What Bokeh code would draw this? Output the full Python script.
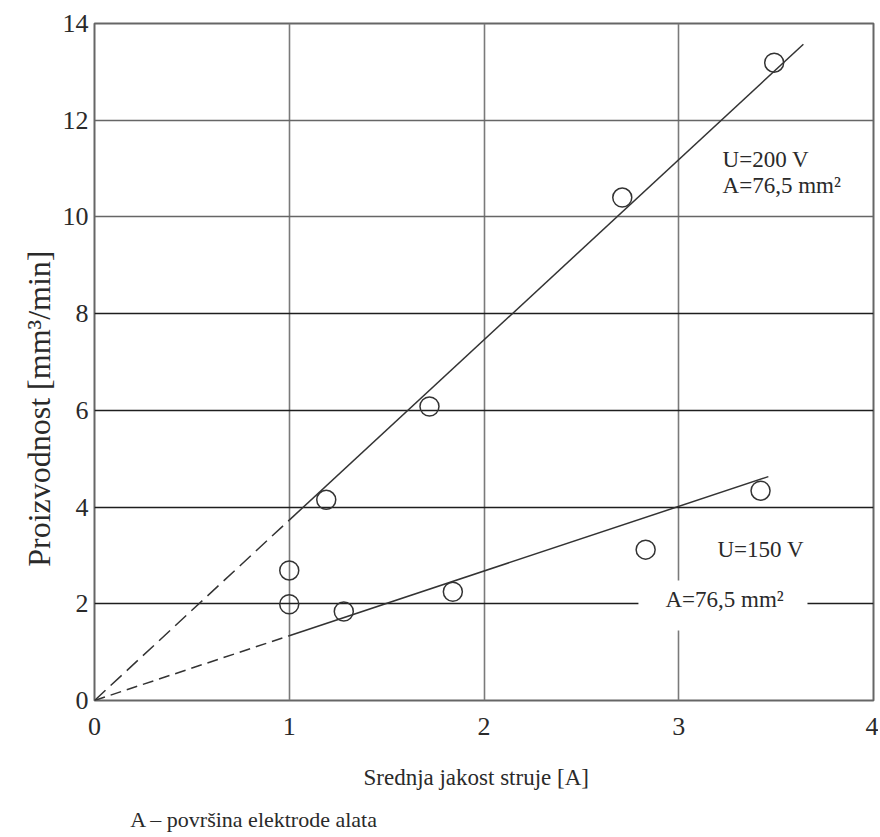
import math
from bokeh.plotting import figure
from bokeh.models import Range1d, FixedTicker, Grid, Label, BoxAnnotation, LinearAxis
from bokeh.embed import file_html
from bokeh.resources import INLINE

# ---- data ----
x_ticks = [0, 1, 2, 3, 4]
y_ticks = [0, 2, 4, 6, 8, 10, 12, 14]

# measured points, U = 200 V
u200_x = [1.0, 1.19, 1.72, 2.71, 3.49]
u200_y = [2.69, 4.15, 6.08, 10.40, 13.19]
# measured points, U = 150 V
u150_x = [1.0, 1.28, 1.84, 2.83, 3.42]
u150_y = [1.99, 1.84, 2.25, 3.12, 4.34]

# fitted lines (dashed extrapolation to origin, then solid)
fit200_dash_x = [0.0, 1.0]
fit200_dash_y = [0.0, 3.73]
fit200_x = [1.0, 3.64]
fit200_y = [3.73, 13.57]
fit150_dash_x = [0.0, 1.0]
fit150_dash_y = [0.0, 1.34]
fit150_x = [1.0, 3.46]
fit150_y = [1.34, 4.63]

ygrid_dark = [2, 4, 6, 8]
ygrid_light = [10, 12]
xgrid_ticks = [1, 2, 3]

x_title = "Srednja jakost struje [A]"
y_title = "Proizvodnost [mm³/min]"
footer = "A – površina elektrode alata"

FONT = "Liberation Serif"
INK = "#2a2a2a"

p = figure(width=878, height=837, output_backend="svg", toolbar_location=None,
           x_range=Range1d(0, 4), y_range=Range1d(0, 14),
           min_border_left=94, min_border_right=5, min_border_top=23,
           min_border_bottom=137)
p.background_fill_color = "white"
p.border_fill_color = "white"
p.outline_line_color = "#666666"
p.outline_line_width = 2


def style_axis(ax, size):
    ax.axis_line_color = None
    ax.major_tick_line_color = None
    ax.minor_tick_line_color = None
    ax.major_tick_in = 0
    ax.major_tick_out = 0
    ax.major_label_text_font = FONT
    ax.major_label_text_font_size = size
    ax.major_label_text_color = INK


style_axis(p.xaxis[0], "26px")
style_axis(p.yaxis[0], "26px")
p.xaxis[0].ticker = FixedTicker(ticks=x_ticks)
p.yaxis[0].ticker = FixedTicker(ticks=y_ticks)
p.xaxis[0].major_label_standoff = 17
p.yaxis[0].major_label_standoff = 6

# axis titles and footer, drawn as serif labels of extra label-only axes
x_title_pos = 1.96     # centre of the x title (x data units)
footer_pos = 0.82      # centre of the footer (x data units)
y_title_pos = 9.305    # upper end of the y title (y data units)

ax_xt = LinearAxis(ticker=FixedTicker(ticks=[x_title_pos]),
                   major_label_overrides={x_title_pos: x_title})
style_axis(ax_xt, "23px")
ax_xt.major_label_standoff = 27
p.add_layout(ax_xt, "below")

ax_ft = LinearAxis(ticker=FixedTicker(ticks=[footer_pos]),
                   major_label_overrides={footer_pos: footer})
style_axis(ax_ft, "22px")
ax_ft.major_label_standoff = 14
p.add_layout(ax_ft, "below")

ax_yt = LinearAxis(ticker=FixedTicker(ticks=[y_title_pos]),
                   major_label_overrides={y_title_pos: y_title})
style_axis(ax_yt, "32px")
ax_yt.major_label_standoff = 20
ax_yt.major_label_orientation = math.pi / 2
p.add_layout(ax_yt, "left")

# grids
p.xgrid.ticker = FixedTicker(ticks=xgrid_ticks)
p.xgrid.grid_line_color = "#7a7a7a"
p.xgrid.grid_line_width = 1.6
p.ygrid.ticker = FixedTicker(ticks=ygrid_dark)
p.ygrid.grid_line_color = "#1e1e1e"
p.ygrid.grid_line_width = 1.6
p.add_layout(Grid(dimension=1, ticker=FixedTicker(ticks=ygrid_light),
                  grid_line_color="#666666", grid_line_width=1.6))

# white box behind the lower annotation
p.add_layout(BoxAnnotation(left=2.793, right=3.661, bottom=1.447, top=2.481,
                           fill_color="white", fill_alpha=1.0, line_color=None,
                           level="underlay"))

# lines
p.line(fit200_dash_x, fit200_dash_y, line_color="#333333", line_width=1.5, line_dash="15 7")
p.line(fit200_x, fit200_y, line_color="#333333", line_width=1.5)
p.line(fit150_dash_x, fit150_dash_y, line_color="#333333", line_width=1.5, line_dash="11 6")
p.line(fit150_x, fit150_y, line_color="#333333", line_width=1.5)

# points
p.scatter(u200_x, u200_y, marker="circle", size=19, fill_color=None,
          line_color="#333333", line_width=1.5)
p.scatter(u150_x, u150_y, marker="circle", size=19, fill_color=None,
          line_color="#333333", line_width=1.5)

# annotations inside the plot
def txt(x, y, s, size="23px"):
    p.add_layout(Label(x=x, y=y, text=s, text_font=FONT, text_font_size=size,
                       text_color=INK))

txt(3.225, 10.92, "U=200 V")
txt(3.225, 10.40, "A=76,5 mm²")
txt(3.199, 2.854, "U=150 V")
txt(2.932, 1.82, "A=76,5 mm²")

open("out.html", "w").write(file_html(p, INLINE))
